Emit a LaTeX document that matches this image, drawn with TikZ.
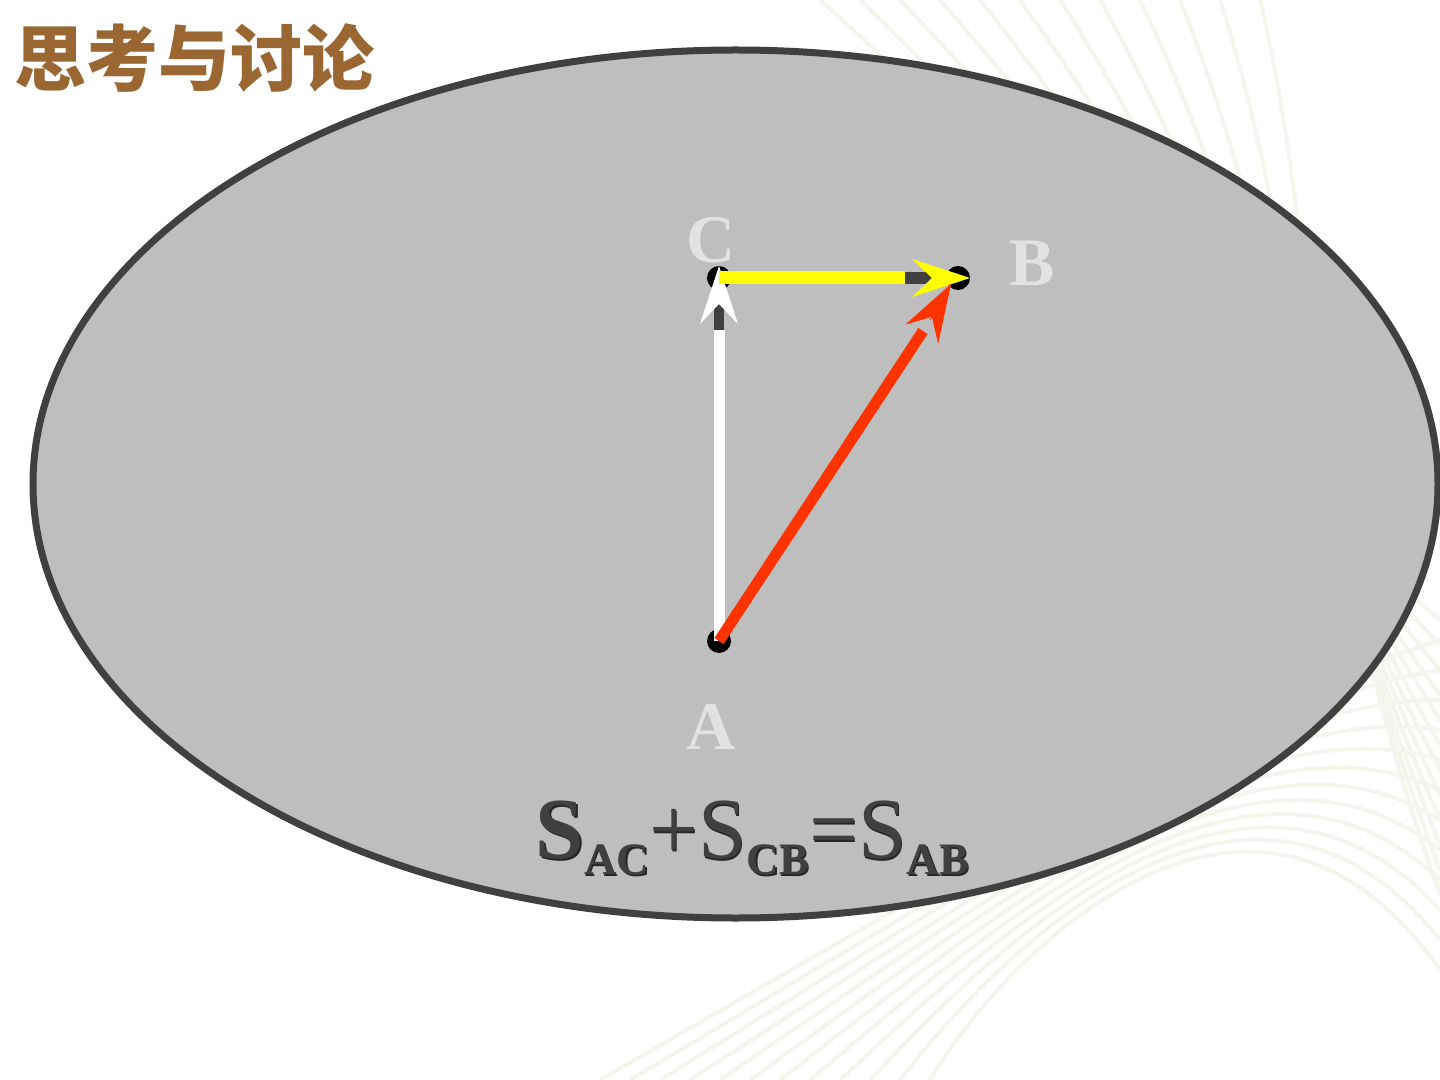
\documentclass[tikz,border=0pt]{standalone}
\usepackage{fontspec}
\setmainfont{Liberation Serif}
\newfontfamily\tnr{Liberation Serif}
\newfontfamily\cjk{Noto Sans CJK SC}
\usetikzlibrary{arrows.meta,shapes.geometric}
\definecolor{ellfill}{HTML}{BEBEBE}
\definecolor{ellline}{HTML}{404040}
\definecolor{titlebrown}{HTML}{9A6632}
\definecolor{lbl}{HTML}{E2E2E2}
\definecolor{redv}{HTML}{FF3300}
\definecolor{yelv}{HTML}{FFFF00}
\definecolor{swoosh}{HTML}{F3F6ED}
\tikzset{
  ptlabel/.style={text=lbl, font=\tnr\fontsize{34}{34}\selectfont\bfseries, inner sep=0pt},
  dot/.style={circle, fill=black, minimum size=12pt, inner sep=0pt},
  vec/.style={line width=5.5pt},
  headtip/.style={-{Stealth[length=29pt,width=19pt,inset=10pt]}},
  formula/.style={inner sep=0pt, anchor=base, font=\tnr\fontsize{43.5}{44}\selectfont},
}
\newcommand{\fsub}[1]{\raisebox{-8pt}{\fontsize{22.5}{23}\selectfont\textbf{#1}}}
\newcommand{\formulatext}{\textbf{S}\fsub{AC}+S\fsub{CB}=S\fsub{AB}}
\begin{document}
\begin{tikzpicture}[x=0.5pt,y=-0.5pt]
\useasboundingbox (0,0) rectangle (1440,1080);
\fill[white] (0,0) rectangle (1440,1080);
% faint background swooshes
\foreach \i in {0,...,11}{
  \draw[swoosh, line width=2pt] (820+\i*40,0) .. controls (1100+\i*20,250) and (1300,500) .. (1440,620+\i*25);
  \draw[swoosh, line width=2pt] (600+\i*30,1080) .. controls (1000,850+\i*10) and (1250,700) .. (1440,640+\i*30);
}
% ellipse
\node[ellipse, draw=ellline, fill=ellfill, line width=3.5pt, minimum width=702.5pt, minimum height=434pt, inner sep=0pt] (ell) at (735.5,484) {};
% title
\node[anchor=west, inner sep=0pt, text=titlebrown, font=\cjk\fontsize{36}{36}\selectfont\bfseries] (title) at (14,58) {思考与讨论};
% points
\node[dot] (A) at (719,641) {};
\node[dot] (C) at (719,278) {};
\node[dot] (B) at (958,278) {};
\coordinate (Ctip) at (719,266);
\coordinate (Btip) at (970,278);
\coordinate (BtipR) at (951,284);
% dark shafts under heads
\draw[ellline, line width=5pt] (719,330) -- (719,300);
\draw[ellline, line width=6pt] (905,278) -- (935,278);
% vectors
\draw[vec, white] (A.center) -- (719,330);
\draw[white, headtip] (719,300) -- (Ctip);
\draw[vec, yelv, line width=6.5pt] (C.center) -- (905,278);
\draw[yelv, headtip] (935,278) -- (Btip);
\draw[vec, redv] (A.center) -- (923,331);
\draw[redv, headtip] (930,320) -- (BtipR);
% labels
\node[ptlabel] (lC) at (711,240) {C};
\node[ptlabel] (lB) at (1032,263) {B};
\node[ptlabel] (lA) at (711,727) {A};
% formula
\node[formula, text=black!85] (fs) at (754,860) {\formulatext};
\node[formula, text=ellline] (f) at (752.5,858.5) {\formulatext};
\end{tikzpicture}
\end{document}
